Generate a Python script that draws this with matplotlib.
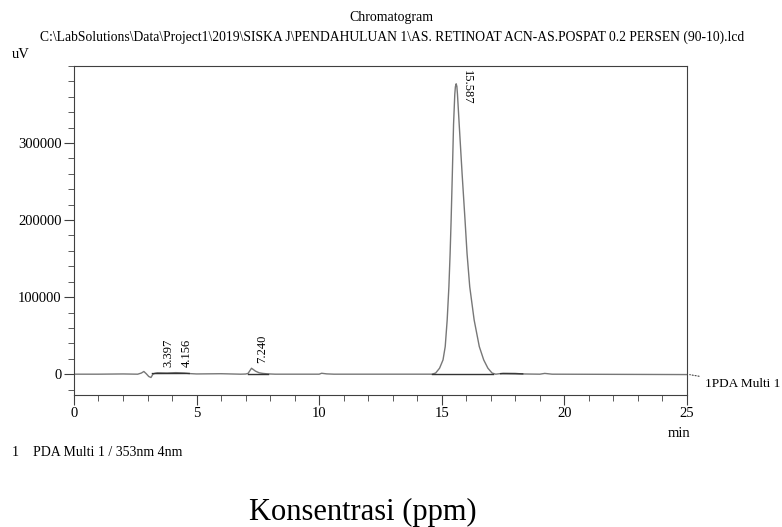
import matplotlib.pyplot as plt
from matplotlib.ticker import MultipleLocator

plt.rcParams['font.family'] = ['Liberation Serif', 'DejaVu Serif']

# trace (min, uV)
t = [0.0, 1.0, 2.0, 2.6, 2.75, 2.85, 2.95, 3.05, 3.14, 3.22, 3.3, 3.397, 3.8,
     4.156, 4.5, 4.7, 5.0, 6.0, 6.8, 7.0, 7.1, 7.24, 7.4, 7.55, 7.7, 7.9, 8.2,
     10.0, 10.1, 10.3, 10.6, 14.0, 14.6, 14.75, 14.91, 15.05, 15.14, 15.22,
     15.29, 15.34, 15.38, 15.43, 15.48, 15.53, 15.555, 15.587, 15.615, 15.64,
     15.71, 15.83, 15.95, 16.03, 16.14, 16.32, 16.53, 16.71, 16.88, 17.05, 17.2,
     17.5, 18.0, 18.3, 19.0, 19.2, 19.5, 23.0, 25.0]
uv = [0, 0, 300, 0, 1500, 3500, 500, -3000, -4300, 0, 1200, 1800, 1500,
      2000, 1500, 800, 300, 600, 0, 200, 1000, 7700, 4000, 1800, 1000, 400, 0,
      0, 1200, 400, 0, 0, 0, 1500, 7800, 18500, 35800, 70300,
      113500, 156700, 199000, 259500, 324200, 363100, 373000, 376900, 373500, 363100,
      324200, 259500, 199000, 156700, 113500, 70300, 35800, 18500, 7800, 1500, 0,
      1200, 1000, 300, 0, 1000, 0, -300, -500]

# integration baselines
base_t = [(3.2, 4.7), (7.1, 7.9), (14.6, 17.1), (17.4, 18.3)]
base_v = [(800, 900), (300, 300), (0, 0), (600, 400)]

peak_rt = [3.397, 4.156, 7.240, 15.587]
peak_lbl = ['3.397', '4.156', '7.240', '15.587']
lbl_y = [9000, 9000, 15000, 395000]
lbl_rot = [90, 90, 90, 270]

fig = plt.figure(figsize=(7.82, 5.27), dpi=100)
ax = fig.add_axes([0.0946, 0.2505, 0.7839, 0.6243])

ax.plot(t, uv, color='#777777', lw=1)
for bt, bv in zip(base_t, base_v):
    ax.plot(bt, bv, color='#333333', lw=1)

for rt, s, yy, r in zip(peak_rt, peak_lbl, lbl_y, lbl_rot):
    va = 'bottom' if r == 90 else 'top'
    ax.text(rt + 0.2, yy, s, rotation=r, ha='left', va=va, fontsize=9)

ax.set_xlim(0, 25)
ax.set_ylim(-27000, 400000)
ax.xaxis.set_major_locator(MultipleLocator(5))
ax.xaxis.set_minor_locator(MultipleLocator(1))
ax.yaxis.set_minor_locator(MultipleLocator(20000))
ax.set_yticks([0, 100000, 200000, 300000])
ax.tick_params(which='major', length=7, color='#404040', labelsize=10.5, pad=2)
ax.tick_params(which='minor', length=4, color='#404040')
for sp in ax.spines.values():
    sp.set_color('#404040')

fig.text(0.5, 0.966, 'Chromatogram', ha='center', va='center', fontsize=10)
fig.text(0.502, 0.930,
         'C:\\LabSolutions\\Data\\Project1\\2019\\SISKA J\\PENDAHULUAN 1\\AS. RETINOAT ACN-AS.POSPAT 0.2 PERSEN (90-10).lcd',
         ha='center', va='center', fontsize=9.8)
fig.text(0.015, 0.896, 'uV', ha='left', va='center', fontsize=10.5)
fig.text(0.868, 0.178, 'min', ha='center', va='center', fontsize=10.5)

# channel tag at right end
ax.annotate('1PDA Multi 1', xy=(25, 0), xytext=(0.901, 0.272),
            textcoords='figure fraction', ha='left', va='center', fontsize=9.5,
            arrowprops=dict(arrowstyle='-', linestyle=':', color='#404040', lw=0.8),
            annotation_clip=False)

fig.text(0.015, 0.142, '1    PDA Multi 1 / 353nm 4nm', ha='left', va='center', fontsize=10)
fig.text(0.464, 0.028, 'Konsentrasi (ppm)', ha='center', va='center', fontsize=22)

fig.savefig('out.png', dpi=100)
